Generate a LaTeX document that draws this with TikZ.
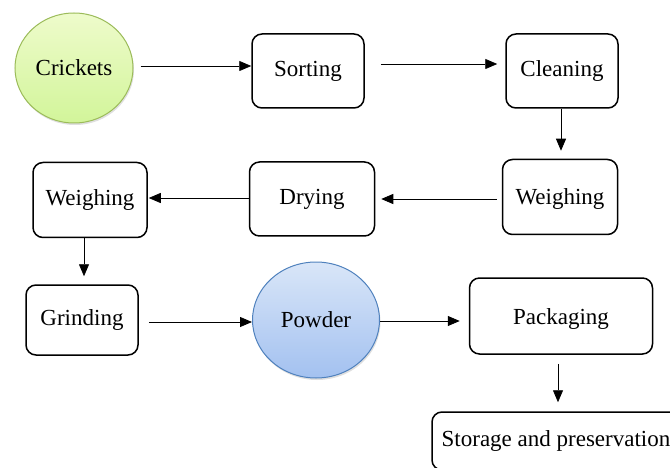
\documentclass[tikz,border=0pt]{standalone}
\usepackage{fontspec}
\setmainfont{Liberation Serif}
\usetikzlibrary{arrows.meta,shadows,shapes.geometric}
\definecolor{crkLine}{HTML}{9BBB59}
\definecolor{crkTop}{HTML}{EEFBCB}
\definecolor{crkBot}{HTML}{D2F59A}
\definecolor{pwdLine}{HTML}{4F81BD}
\definecolor{pwdTop}{HTML}{D9E6F8}
\definecolor{pwdBot}{HTML}{A3C1F0}
\begin{document}
\begin{tikzpicture}[x=1pt,y=-1pt,
    flowStep/.style={draw,line width=1.5pt,rounded corners=10pt,inner sep=0pt,
        font=\fontsize{23}{27}\selectfont},
    flowEnd/.style={ellipse,line width=1pt,inner sep=0pt,
        drop shadow={shadow xshift=1pt,shadow yshift=-2pt,opacity=0.25},
        font=\fontsize{23}{27}\selectfont},
    flowArr/.style={-{Triangle[length=12pt,width=10pt]},line width=0.8pt},
]
\useasboundingbox (0,0) rectangle (670,468);
% Start and end points
\node[flowEnd,draw=crkLine,top color=crkTop,bottom color=crkBot,
    minimum width=118pt,minimum height=110pt] (crk) at (74,68) {Crickets};
\node[flowEnd,draw=pwdLine,top color=pwdTop,bottom color=pwdBot,
    minimum width=127pt,minimum height=116pt] (pwd) at (316,320) {Powder};
% Process steps
\node[flowStep,minimum width=112pt,minimum height=74pt] (srt) at (308,71) {Sorting};
\node[flowStep,minimum width=112pt,minimum height=74pt] (cln) at (562,71) {Cleaning};
\node[flowStep,minimum width=115pt,minimum height=75pt,text height=19pt] (wgA) at (560,197) {Weighing};
\node[flowStep,minimum width=125pt,minimum height=74pt] (dry) at (312,199) {Drying};
\node[flowStep,minimum width=114pt,minimum height=75pt] (wgB) at (90,200) {Weighing};
\node[flowStep,minimum width=112pt,minimum height=70pt] (grd) at (82,320) {Grinding};
\node[flowStep,minimum width=183pt,minimum height=76pt,text height=22pt] (pkg) at (561,316) {Packaging};
\node[flowStep,minimum width=248pt,minimum height=58pt] (sto) at (556,441) {Storage and preservation};
% Connectors
\draw[flowArr,shorten <=7pt] (crk.east |- 0,66) -- (srt.west |- 0,66);
\draw[flowArr,shorten <=16pt,shorten >=8pt] (srt.east |- 0,64) -- (cln.west |- 0,64);
\draw[flowArr,shorten >=8pt] (cln.south -| 561,0) -- (wgA.north -| 561,0);
\draw[flowArr,shorten <=5pt,shorten >=6pt] (wgA.west |- 0,199) -- (dry.east |- 0,199);
\draw[flowArr,shorten >=1pt] (dry.west |- 0,198) -- (wgB.east |- 0,198);
\draw[flowArr,shorten >=8pt] (wgB.south -| 84,0) -- (grd.north -| 84,0);
\draw[flowArr,shorten <=10pt] (grd.east |- 0,322) -- (pwd.west |- 0,322);
\draw[flowArr,shorten >=9pt] (pwd.east |- 0,321) -- (pkg.west |- 0,321);
\draw[flowArr,shorten <=9pt,shorten >=9pt] (pkg.south -| 558,0) -- (sto.north -| 558,0);
\end{tikzpicture}
\end{document}
